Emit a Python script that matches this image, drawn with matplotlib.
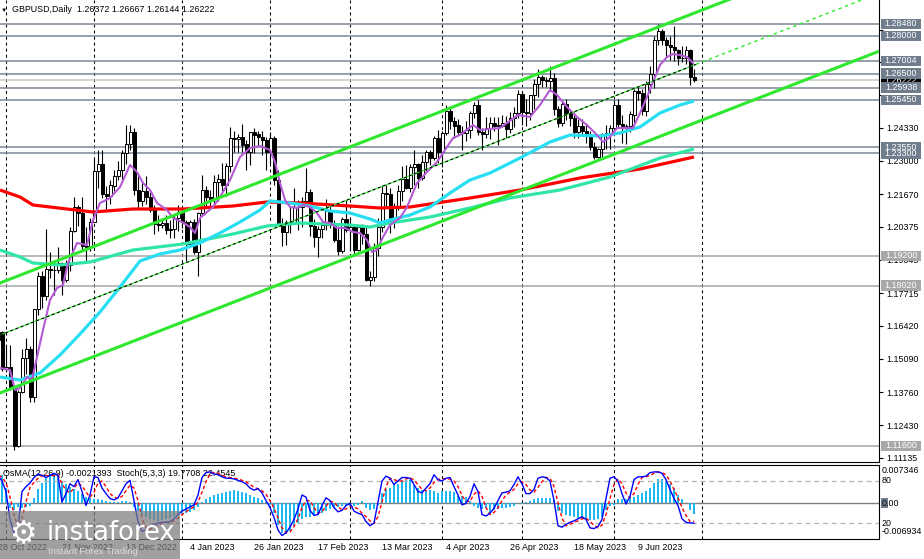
import numpy as np
import matplotlib
matplotlib.use('Agg')
from matplotlib import pyplot as plt
from matplotlib.patches import Rectangle

plt.rcParams['font.family'] = ['Liberation Sans', 'DejaVu Sans']

#%% Datos: velas diarias GBPUSD (28 Oct 2022 - 29 Jun 2023)

opens = [1.1585, 1.1615, 1.1468, 1.1475, 1.1390, 1.1160, 1.1378, 1.1513, 1.1549, 1.1354,
         1.1707, 1.1840, 1.1759, 1.1866, 1.1865, 1.1863, 1.1891, 1.1825, 1.1885, 1.2021,
         1.2117, 1.2091, 1.1959, 1.1958, 1.2058, 1.2258, 1.2288, 1.2168, 1.2158, 1.2202,
         1.2242, 1.2263, 1.2333, 1.2368, 1.2417, 1.2183, 1.2141, 1.2178, 1.2157, 1.2103,
         1.2048, 1.2044, 1.2052, 1.2025, 1.2027, 1.2071, 1.2097, 1.2055, 1.1966, 1.2057,
         1.1934, 1.2090, 1.2183, 1.2156, 1.2148, 1.2217, 1.2227, 1.2203, 1.2280, 1.2391,
         1.2388, 1.2396, 1.2366, 1.2335, 1.2414, 1.2406, 1.2395, 1.2384, 1.2337, 1.2390,
         1.2225, 1.2053, 1.2018, 1.2054, 1.2053, 1.2115, 1.2117, 1.2139, 1.2175, 1.2041,
         1.1996, 1.2029, 1.2043, 1.2100, 1.2044, 1.1985, 1.1941, 1.2068, 1.2023, 1.2035,
         1.1945, 1.2035, 1.2008, 1.1825, 1.1835, 1.1950, 1.2035, 1.2172, 1.2167, 1.2055,
         1.2118, 1.2178, 1.2226, 1.2193, 1.2274, 1.2287, 1.2233, 1.2297, 1.2336, 1.2310,
         1.2391, 1.2336, 1.2412, 1.2500, 1.2459, 1.2442, 1.2417, 1.2413, 1.2423, 1.2491,
         1.2523, 1.2414, 1.2409, 1.2433, 1.2450, 1.2439, 1.2442, 1.2450, 1.2427, 1.2472,
         1.2492, 1.2568, 1.2495, 1.2491, 1.2565, 1.2609, 1.2634, 1.2625, 1.2621, 1.2633,
         1.2510, 1.2451, 1.2530, 1.2492, 1.2472, 1.2415, 1.2440, 1.2420, 1.2405, 1.2356,
         1.2315, 1.2348, 1.2406, 1.2411, 1.2432, 1.2525, 1.2449, 1.2438, 1.2439, 1.2486,
         1.2580, 1.2572, 1.2498, 1.2608, 1.2650, 1.2784, 1.2819, 1.2785, 1.2764, 1.2757,
         1.2744, 1.2712, 1.2713, 1.2745, 1.26372]

highs = [1.1620, 1.1620, 1.1565, 1.1565, 1.1397, 1.1382, 1.1546, 1.1592, 1.1560, 1.1708,
         1.1855, 1.1860, 1.2029, 1.1934, 1.1900, 1.1954, 1.1895, 1.1903, 1.2038, 1.2154,
         1.2123, 1.2154, 1.2036, 1.2070, 1.2311, 1.2345, 1.2344, 1.2200, 1.2223, 1.2266,
         1.2300, 1.2344, 1.2445, 1.2446, 1.2430, 1.2243, 1.2219, 1.2242, 1.2175, 1.2125,
         1.2085, 1.2070, 1.2086, 1.2066, 1.2089, 1.2125, 1.2114, 1.2065, 1.2064, 1.2068,
         1.2095, 1.2246, 1.2198, 1.2185, 1.2246, 1.2248, 1.2292, 1.2293, 1.2436, 1.2418,
         1.2408, 1.2448, 1.2385, 1.2417, 1.2432, 1.2420, 1.2418, 1.2397, 1.2417, 1.2402,
         1.2264, 1.2070, 1.2066, 1.2118, 1.2193, 1.2143, 1.2155, 1.2270, 1.2187, 1.2068,
         1.2041, 1.2066, 1.2148, 1.2123, 1.2065, 1.2040, 1.2075, 1.2144, 1.2075, 1.2042,
         1.2040, 1.2049, 1.2040, 1.1859, 1.1970, 1.2073, 1.2203, 1.2205, 1.2190, 1.2130,
         1.2203, 1.2282, 1.2285, 1.2289, 1.2343, 1.2290, 1.2325, 1.2343, 1.2344, 1.2400,
         1.2424, 1.2419, 1.2525, 1.2512, 1.2475, 1.2469, 1.2440, 1.2460, 1.2499, 1.2537,
         1.2545, 1.2430, 1.2475, 1.2474, 1.2474, 1.2475, 1.2485, 1.2478, 1.2495, 1.2516,
         1.2584, 1.2576, 1.2550, 1.2566, 1.2627, 1.2668, 1.2645, 1.2634, 1.2680, 1.2653,
         1.2520, 1.2534, 1.2547, 1.2509, 1.2495, 1.2469, 1.2467, 1.2447, 1.2418, 1.2376,
         1.2350, 1.2410, 1.2446, 1.2445, 1.2544, 1.2547, 1.2483, 1.2447, 1.2498, 1.2590,
         1.2594, 1.2588, 1.2619, 1.2679, 1.2800, 1.2848, 1.2830, 1.2795, 1.2802, 1.2842,
         1.2750, 1.2758, 1.2761, 1.2750, 1.26667]

lows = [1.1525, 1.1460, 1.1455, 1.1382, 1.1142, 1.1155, 1.1370, 1.1447, 1.1335, 1.1335,
        1.1685, 1.1710, 1.1745, 1.1830, 1.1764, 1.1850, 1.1763, 1.1814, 1.1862, 1.2015,
        1.2040, 1.1945, 1.1900, 1.1941, 1.2057, 1.2191, 1.2152, 1.2107, 1.2128, 1.2179,
        1.2224, 1.2216, 1.2287, 1.2345, 1.2166, 1.2112, 1.2120, 1.2128, 1.2094, 1.2008,
        1.2020, 1.2030, 1.2008, 1.1992, 1.1993, 1.2020, 1.2030, 1.1900, 1.1955, 1.1926,
        1.1841, 1.2086, 1.2116, 1.2120, 1.2122, 1.2138, 1.2182, 1.2159, 1.2256, 1.2336,
        1.2337, 1.2335, 1.2263, 1.2286, 1.2331, 1.2364, 1.2325, 1.2264, 1.2288, 1.2204,
        1.2048, 1.1961, 1.1963, 1.2013, 1.2047, 1.2024, 1.2035, 1.2136, 1.2002, 1.1957,
        1.1915, 1.1993, 1.2023, 1.2033, 1.1975, 1.1923, 1.1932, 1.2016, 1.1941, 1.1924,
        1.1939, 1.1966, 1.1822, 1.1802, 1.1822, 1.1921, 1.2015, 1.2112, 1.2010, 1.2030,
        1.2106, 1.2138, 1.2189, 1.2174, 1.2203, 1.2190, 1.2225, 1.2262, 1.2285, 1.2303,
        1.2290, 1.2275, 1.2404, 1.2428, 1.2393, 1.2406, 1.2344, 1.2380, 1.2390, 1.2470,
        1.2404, 1.2345, 1.2392, 1.2387, 1.2420, 1.2366, 1.2434, 1.2390, 1.2410, 1.2434,
        1.2473, 1.2445, 1.2440, 1.2463, 1.2507, 1.2555, 1.2594, 1.2595, 1.2580, 1.2483,
        1.2434, 1.2440, 1.2464, 1.2442, 1.2392, 1.2391, 1.2404, 1.2372, 1.2343, 1.2308,
        1.2310, 1.2317, 1.2347, 1.2348, 1.2415, 1.2436, 1.2370, 1.2369, 1.2417, 1.2453,
        1.2545, 1.2486, 1.2480, 1.2573, 1.2592, 1.2765, 1.2766, 1.2711, 1.2705, 1.2698,
        1.2683, 1.2695, 1.2687, 1.2604, 1.26144]

closes = [1.1615, 1.1468, 1.1475, 1.1390, 1.1160, 1.1378, 1.1513, 1.1549, 1.1354, 1.1707,
          1.1840, 1.1759, 1.1866, 1.1865, 1.1863, 1.1891, 1.1825, 1.1885, 1.2021, 1.2117,
          1.2091, 1.1959, 1.1958, 1.2058, 1.2258, 1.2288, 1.2168, 1.2158, 1.2202, 1.2242,
          1.2263, 1.2333, 1.2368, 1.2417, 1.2183, 1.2141, 1.2178, 1.2157, 1.2103, 1.2048,
          1.2044, 1.2052, 1.2025, 1.2027, 1.2071, 1.2097, 1.2055, 1.1966, 1.2057, 1.1934,
          1.2090, 1.2183, 1.2156, 1.2148, 1.2217, 1.2227, 1.2203, 1.2280, 1.2391, 1.2388,
          1.2396, 1.2366, 1.2335, 1.2414, 1.2406, 1.2395, 1.2384, 1.2337, 1.2390, 1.2225,
          1.2053, 1.2018, 1.2054, 1.2053, 1.2115, 1.2117, 1.2139, 1.2175, 1.2041, 1.1996,
          1.2029, 1.2043, 1.2100, 1.2044, 1.1985, 1.1941, 1.2068, 1.2023, 1.2035, 1.1945,
          1.2035, 1.2008, 1.1825, 1.1835, 1.1950, 1.2035, 1.2172, 1.2167, 1.2055, 1.2118,
          1.2178, 1.2226, 1.2193, 1.2274, 1.2287, 1.2233, 1.2297, 1.2336, 1.2310, 1.2391,
          1.2336, 1.2412, 1.2500, 1.2459, 1.2442, 1.2417, 1.2413, 1.2423, 1.2491, 1.2523,
          1.2414, 1.2409, 1.2433, 1.2450, 1.2439, 1.2442, 1.2450, 1.2427, 1.2472, 1.2492,
          1.2568, 1.2495, 1.2491, 1.2565, 1.2609, 1.2634, 1.2625, 1.2621, 1.2633, 1.2510,
          1.2451, 1.2530, 1.2492, 1.2472, 1.2415, 1.2440, 1.2420, 1.2405, 1.2356, 1.2315,
          1.2348, 1.2406, 1.2411, 1.2432, 1.2525, 1.2449, 1.2438, 1.2439, 1.2486, 1.2580,
          1.2572, 1.2498, 1.2608, 1.2650, 1.2784, 1.2819, 1.2785, 1.2764, 1.2757, 1.2744,
          1.2712, 1.2713, 1.2745, 1.2637, 1.26222]

#%% Medias moviles (indice de barra, precio)

ma_red_x = [1.5, 6.5, 9.75, 18.25, 24.75, 34.75, 47.25, 59.75, 68.25, 76.5, 89, 96.5, 104, 109,
            119, 131.5, 146.5, 161.5, 175]
ma_red = [1.2184, 1.2156, 1.2124, 1.2108, 1.2096, 1.2108, 1.2108, 1.2120, 1.2136, 1.2132, 1.2120,
          1.2112, 1.2116, 1.2128, 1.2152, 1.2184, 1.2232, 1.2268, 1.2316]

ma_cyan_x = [1.5, 6.5, 11.5, 16.5, 21.5, 26.5, 31.5, 36.5, 41.5, 46.5, 51.5, 56.5, 61.5, 66.5, 69,
             74, 79, 84, 89, 94, 96.5, 99, 104, 109, 114, 119, 124, 131.5, 139, 144, 151.5, 156.5,
             161.5, 166.5, 171.5, 175]
ma_cyan = [1.1436, 1.1424, 1.1452, 1.1524, 1.1608, 1.1696, 1.1796, 1.1900, 1.1928, 1.1944, 1.1972,
           1.2012, 1.2056, 1.2104, 1.2140, 1.2132, 1.2120, 1.2100, 1.2092, 1.2068, 1.2052, 1.2064,
           1.2084, 1.2116, 1.2172, 1.2224, 1.2252, 1.2312, 1.2376, 1.2404, 1.2400, 1.2412, 1.2436,
           1.2492, 1.2524, 1.2540]

ma_aqua_x = [1.5, 6.5, 9.75, 16.5, 24, 34.75, 47.25, 59.75, 68.25, 76.5, 89, 94, 99, 109, 119,
             129, 141.5, 154, 166.5, 175]
ma_aqua = [1.1944, 1.1916, 1.1892, 1.1884, 1.1896, 1.1944, 1.1968, 1.2008, 1.2040, 1.2052, 1.2044,
           1.2036, 1.2052, 1.2076, 1.2112, 1.2152, 1.2184, 1.2236, 1.2312, 1.2348]

ma_fast_x = [1.5, 4, 5.25, 6.5, 8.25, 9.5, 10.75, 12.25, 14, 15.75,
             17.25, 18.5, 20.75, 23.25, 24.75, 26.5, 29, 31.5, 34, 35.75,
             37.25, 39, 40.75, 43.25, 44.75, 47, 49, 50.25, 51.5, 53.25,
             54.75, 56.5, 59, 61.5, 64, 66.5, 69, 70.25, 71.5, 72.75,
             74, 75.75, 77.25, 79, 80.75, 82.25, 84, 85.75, 87.75, 89.75,
             91.5, 93.25, 94.5, 95.75, 97.25, 99, 101.5, 103.25, 105.75, 108.25,
             110.75, 112.25, 114.75, 116.5, 119.75, 121.5, 126.5, 131, 134, 136.5,
             139, 140.75, 143.25, 145.75, 148.25, 150.75, 152.25, 154, 155.75, 159.75,
             161.5, 163.25, 164.75, 166.5, 168.25, 169.75, 171.5, 173.25, 174.75]
ma_fast = [1.1472, 1.1464, 1.1384, 1.1392, 1.1436, 1.1424, 1.1516, 1.1624, 1.1744, 1.1792,
           1.1804, 1.1892, 1.1972, 1.1964, 1.2064, 1.2132, 1.2152, 1.2196, 1.2284, 1.2256,
           1.2212, 1.2184, 1.2132, 1.2104, 1.2072, 1.2056, 1.2036, 1.2012, 1.2072, 1.2096,
           1.2116, 1.2156, 1.2224, 1.2316, 1.2352, 1.2360, 1.2344, 1.2296, 1.2212, 1.2144,
           1.2116, 1.2112, 1.2124, 1.2116, 1.2092, 1.2056, 1.2052, 1.2032, 1.2032, 1.2016,
           1.2012, 1.1984, 1.1936, 1.1944, 1.1996, 1.2044, 1.2072, 1.2116, 1.2212, 1.2256,
           1.2296, 1.2332, 1.2392, 1.2404, 1.2444, 1.2424, 1.2432, 1.2484, 1.2476, 1.2524,
           1.2584, 1.2564, 1.2516, 1.2476, 1.2444, 1.2404, 1.2376, 1.2396, 1.2432, 1.2432,
           1.2492, 1.2556, 1.2616, 1.2684, 1.2716, 1.2728, 1.2724, 1.2716, 1.2692]

#%% Osciladores: OsMA (en unidades de 1e-4) y estocastico

osma_e4 = [56, 54, 29, -10, -14, -8, -10, -8, -6, 10,
           27, 39, 48, 56, 58, 54, 42, 37, 31, 27,
           23, 17, 12, 10, 8, 8, 6, 4, 2, 2,
           2, 4, 4, 2, -8, -15, -23, -27, -31, -33,
           -35, -33, -31, -29, -25, -23, -21, -19, -17, -14,
           -8, 2, 8, 12, 15, 17, 19, 21, 23, 25,
           23, 21, 19, 15, 12, 10, 6, 2, -4, -19,
           -42, -58, -60, -54, -46, -39, -31, -27, -27, -25,
           -23, -19, -15, -12, -10, -8, -6, -6, -6, -6,
           -4, 4, -10, -14, -12, -4, 19, 27, 29, 35,
           37, 42, 44, 44, 35, 29, 25, 23, 25, 23,
           19, 23, 23, 23, 21, 14, 14, 12, 4, -6,
           -10, -12, -10, -19, -14, -12, -10, -10, -8, -6,
           0, -2, 2, 4, 8, 10, 10, 10, 10, 6,
           -15, -19, -23, -25, -27, -29, -29, -31, -33, -33,
           -31, -27, -14, -6, -4, 8, 8, 8, 10, 12,
           15, 19, 23, 29, 39, 46, 46, 42, 37, 29,
           15, 8, 0, -14, -21.393]

stoch_main = [88, 80, 65, 25, 5, 12, 65, 72, 77, 85,
              90, 88, 85, 88, 91, 88, 50, 62, 76, 72,
              82, 65, 45, 60, 86, 85, 70, 62, 55, 53,
              56, 66, 76, 81, 52, 22, 8, 10, 14, 18,
              20, 21, 21, 22, 26, 32, 37, 40, 43, 46,
              60, 85, 92, 93, 90, 89, 86, 84, 84, 83,
              81, 79, 76, 70, 67, 69, 63, 52, 42, 28,
              10, 2, 6, 14, 25, 40, 60, 57, 38, 31,
              32, 45, 56, 52, 42, 36, 38, 45, 48, 37,
              34, 32, 22, 16, 20, 50, 80, 87, 84, 75,
              80, 85, 85, 84, 75, 65, 63, 70, 76, 89,
              82, 80, 84, 85, 72, 60, 46, 48, 58, 76,
              65, 32, 30, 34, 41, 52, 63, 64, 66, 75,
              86, 76, 62, 62, 68, 84, 86, 85, 80, 52,
              16, 14, 18, 21, 23, 26, 29, 25, 13, 12,
              15, 25, 55, 84, 86, 80, 62, 47, 58, 82,
              86, 86, 87, 92, 93, 93, 91, 82, 68, 55,
              45, 26, 21, 20, 19.7708]

stoch_signal = [90, 85, 78, 57, 32, 14, 27, 50, 71, 78,
                84, 88, 88, 87, 88, 89, 76, 67, 63, 70,
                77, 73, 64, 57, 64, 77, 80, 72, 62, 57,
                55, 58, 66, 74, 70, 52, 27, 13, 11, 14,
                17, 20, 21, 21, 23, 27, 32, 36, 40, 43,
                50, 64, 79, 90, 92, 91, 88, 86, 85, 84,
                83, 81, 79, 75, 71, 69, 66, 61, 52, 41,
                27, 13, 6, 7, 15, 26, 42, 52, 52, 42,
                34, 36, 44, 51, 50, 43, 39, 40, 44, 43,
                40, 34, 29, 23, 19, 29, 50, 72, 84, 82,
                80, 80, 83, 85, 81, 75, 68, 66, 70, 78,
                82, 84, 82, 83, 80, 72, 59, 51, 51, 61,
                66, 58, 42, 32, 35, 42, 52, 60, 64, 68,
                76, 79, 75, 67, 64, 71, 79, 85, 84, 72,
                49, 27, 16, 18, 21, 23, 26, 27, 22, 17,
                13, 17, 32, 55, 75, 83, 76, 63, 56, 62,
                75, 85, 86, 88, 91, 93, 92, 89, 80, 68,
                56, 42, 31, 22, 22.4545]

#%% Niveles, canal y etiquetas

levels_dark = [1.2848, 1.2800, 1.27004, 1.2650, 1.25938, 1.2545, 1.2355, 1.2330]
levels_light = [1.1920, 1.1802, 1.1160]
last_price = 1.26222

# marcas del eje; las que quedan tapadas por las cajas llevan etiqueta vacia
price_ticks = [1.11135, 1.12430, 1.13760, 1.15090, 1.16420, 1.17715, 1.19045, 1.20375,
               1.21670, 1.23000, 1.24330, 1.25625, 1.26955, 1.28250]
tick_hidden = [1.25625, 1.26955, 1.28250]

chan_x = [1.5, 221.25]
chan_up = [1.1812, 1.3179]
chan_mid = [1.1604, 1.2971]
chan_lo = [1.1372, 1.2739]

month_bars = [3, 25, 47, 69, 89, 112, 132, 155, 177]
label_bars = [1, 17, 33, 49, 65, 81, 97, 113, 129, 145, 161]
label_dates = ['28 Oct 2022', '21 Nov 2022', '13 Dec 2022', '4 Jan 2023', '26 Jan 2023',
               '17 Feb 2023', '13 Mar 2023', '4 Apr 2023', '26 Apr 2023', '18 May 2023',
               '9 Jun 2023']

#%% Figura

W, H = 924, 559
FS = 6.4
fig = plt.figure(figsize=(W/100, H/100), dpi=100)
ax = fig.add_axes([0, 1-462/H, 879/W, 462/H])
ax2 = fig.add_axes([0, 1-539/H, 879/W, 74/H])

o = np.array(opens); h = np.array(highs); l = np.array(lows); c = np.array(closes)
bar = np.arange(1, len(c)+1)
XL = (1.5, 221.25)

ax.set_xlim(XL)
ax.set_ylim(1.1096, 1.2944)

for m in month_bars:
    ax.axvline(m, color='black', lw=0.75, ls=(0, (2.9, 2.9)), zorder=1)
    ax2.axvline(m, color='black', lw=0.75, ls=(0, (2.9, 2.9)), zorder=1)

for lv in levels_dark:
    ax.axhline(lv, color='#7a8796', lw=1.1, zorder=1)
for lv in levels_light:
    ax.axhline(lv, color='#a6a6a6', lw=1.1, zorder=1)
ax.axhline(last_price, color='#c8c8c8', lw=1.1, zorder=1)

# velas
up = c >= o
ax.vlines(bar, l, h, color='black', lw=0.8, zorder=3)
lo_b = np.minimum(o, c)
hh = np.maximum(np.abs(c-o), 0.00012)
ax.bar(bar[up], hh[up], bottom=lo_b[up], width=0.75, facecolor='white',
       edgecolor='black', lw=0.7, zorder=4)
ax.bar(bar[~up], hh[~up], bottom=lo_b[~up], width=0.75, facecolor='black',
       edgecolor='black', lw=0.7, zorder=4)

# medias
ax.plot(ma_red_x, ma_red, color='#ff0000', lw=2.3, zorder=5, solid_capstyle='butt')
ax.plot(ma_aqua_x, ma_aqua, color='#30e6a6', lw=2.3, zorder=5, solid_capstyle='butt')
ax.plot(ma_cyan_x, ma_cyan, color='#28def2', lw=2.3, zorder=5, solid_capstyle='butt')
ax.plot(ma_fast_x, ma_fast, color='#b45ad6', lw=1.5, zorder=6)

# canal
ax.plot(chan_x, chan_up, color='#2ee82e', lw=2.2, zorder=7)
ax.plot(chan_x, chan_lo, color='#2ee82e', lw=2.2, zorder=7)
split = bar[-1] + 0.5
mid_split = np.interp(split, chan_x, chan_mid)
ax.plot([chan_x[0], split], [chan_mid[0], mid_split], color='#2ee82e', lw=0.8, zorder=7)
ax.plot([chan_x[0], split], [chan_mid[0], mid_split], color='black', lw=0.8,
        ls=(0, (2.5, 2.5)), zorder=7)
ax.plot([split, chan_x[1]], [mid_split, chan_mid[1]], color='#2ee82e', lw=1.0,
        ls=(0, (2.5, 2.5)), zorder=7)

# eje de precios
ax.yaxis.tick_right()
ax.set_yticks(price_ticks)
ax.set_yticklabels(['' if t in tick_hidden else '%.5f' % t for t in price_ticks])
ax.tick_params(axis='y', length=3, width=0.8, labelsize=FS, pad=2, direction='out')
ax.set_xticks([])
for s in ['left', 'top']:
    ax.spines[s].set_visible(False)

def price_box(axis, y, txt, fc, tc='white', z=10):
    bh = 10.5/2500
    axis.add_patch(Rectangle((881/879, y-bh/2), 40/879, bh, transform=axis.get_yaxis_transform(),
                             facecolor=fc, edgecolor='none', clip_on=False, zorder=z))
    axis.text(901/879, y, txt, transform=axis.get_yaxis_transform(), fontsize=FS, color=tc,
              ha='center', va='center', clip_on=False, zorder=z+0.5)

price_box(ax, last_price, '%.5f' % last_price, 'black', z=9)
for lv in levels_dark:
    price_box(ax, lv, '%.5f' % lv, '#6f7d8d')
for lv in levels_light:
    price_box(ax, lv, '%.5f' % lv, '#a8a8a8')

fig.text(4/W, 1-10/H, '\u25bc', fontsize=4.5, ha='center', va='center')
fig.text(12/W, 1-10/H, 'GBPUSD,Daily  %.5f %.5f %.5f %.5f' % (o[-1], h[-1], l[-1], c[-1]),
         fontsize=FS, va='center')

#%% Panel inferior

ax2.set_xlim(XL)
ax2.set_ylim(-0.006934, 0.007346)
ax2.bar(bar, np.array(osma_e4)*1e-4, width=0.55, color='#1cbaf0', zorder=2)
ax2.axhline(0, color='#808080', lw=1, zorder=1)
ax2.set_xticks([]); ax2.set_yticks([])
ax2.spines['left'].set_visible(False)

ax3 = ax2.twinx()
ax3.set_xlim(XL)
ax3.set_ylim(-2.9, 102.9)
ax3.axhline(80, color='#b4b4b4', lw=0.9, ls=(0, (4, 3)), zorder=1)
ax3.axhline(20, color='#b4b4b4', lw=0.9, ls=(0, (4, 3)), zorder=1)
ax3.plot(bar, stoch_signal, color='#ff0000', lw=1.0, ls=(0, (2.5, 1.8)), zorder=3)
ax3.plot(bar, stoch_main, color='#0000ff', lw=1.0, zorder=4)
ax3.set_yticks([])
for s in ax3.spines.values():
    s.set_visible(False)

ax2.text(3/879, 0.89, 'OsMA(12,26,9) -0.0021393  Stoch(5,3,3) 19.7708 22.4545',
         transform=ax2.transAxes, fontsize=FS, va='center', zorder=10)

ax2.add_patch(Rectangle((881/879, 0.42), 7/879, 0.14, transform=ax2.transAxes,
                        facecolor='#6f7d8d', edgecolor='none', clip_on=False, zorder=9))
for txt, yy in [('0.007346', 0.93), ('80', 0.785), ('0.00', 0.486), ('20', 0.215),
                ('-0.006934', 0.095)]:
    ax2.text(882/879, yy, txt, transform=ax2.transAxes, fontsize=FS, va='center',
             ha='left', clip_on=False, zorder=10)

for b, d in zip(label_bars, label_dates):
    ax2.text(b, -0.12, d, transform=ax2.get_xaxis_transform(), fontsize=FS,
             ha='left', va='center', clip_on=False)

#%% Marca de agua

fig.add_artist(Rectangle((0, 0), 180/W, 48/H, transform=fig.transFigure,
                         facecolor='#7c7c7c', alpha=0.72, edgecolor='none', zorder=20))
fig.text(23/W, 24/H, '\u2699', fontsize=22, color='white', ha='center', va='center',
         family='DejaVu Sans', zorder=21)
fig.text(47/W, 26/H, 'instaforex', fontsize=18.5, color='white', ha='left', va='center',
         family='DejaVu Sans', zorder=21)
fig.text(48/W, 8/H, 'Instant Forex Trading', fontsize=6.8, color='#dcdcdc', ha='left',
         va='center', zorder=21)

fig.savefig('out.png', dpi=100, facecolor='white')
